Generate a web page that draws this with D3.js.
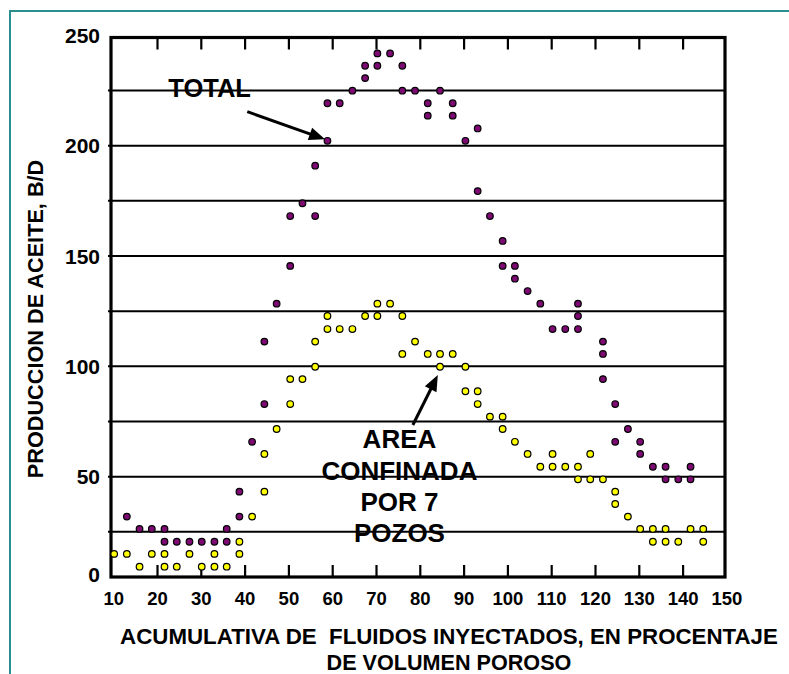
<!DOCTYPE html>
<html>
<head>
<meta charset="utf-8">
<script src="https://cdn.jsdelivr.net/npm/d3@7"></script>
<style>
  body { margin: 0; background: #fff; }
  svg { display: block; }
  text { font-family: "Liberation Sans", Arial, Helvetica, sans-serif; font-weight: bold; fill: #000; }
</style>
</head>
<body>
<svg id="chart" width="789" height="674"></svg>
<script>
// Cumulative injected fluid (% of pore volume) and oil rate (B/D) — whole field
const totalPct = [13.0,15.9,18.7,21.6,21.6,24.4,27.3,30.1,33.0,35.8,35.8,38.7,38.7,41.6,44.4,44.4,47.2,50.3,50.3,53.1,56.0,56.0,58.8,58.8,61.6,64.5,67.4,67.4,70.2,70.2,73.1,75.9,75.9,78.8,81.7,81.7,84.5,87.4,87.4,90.3,93.1,93.1,95.9,98.8,98.8,101.6,101.6,104.5,107.4,110.2,113.1,116.0,116.0,116.0,121.7,121.7,121.7,124.5,124.5,127.4,130.2,130.2,133.1,136.0,136.0,138.9,141.7,141.7];
const totalOil = [31.9,26.3,26.3,26.3,20.5,20.5,20.5,20.5,20.5,20.5,26.3,31.9,43.2,65.8,82.9,111.2,128.4,145.5,168.1,173.9,168.1,190.9,202.2,219.2,219.2,224.9,230.6,236.2,236.2,241.8,241.8,236.2,224.9,224.9,219.2,213.6,224.9,219.2,213.6,202.2,207.8,179.4,168.1,156.8,145.5,145.5,139.7,134.1,128.4,116.9,116.9,128.4,122.8,116.9,111.2,105.6,94.2,82.9,65.8,71.6,65.8,60.3,54.5,54.5,48.8,48.8,54.5,48.8];

// Same, for the area confined by 7 wells
const areaPct = [10.1,13.0,15.9,18.7,21.6,21.6,24.4,27.3,30.1,33.0,33.0,35.8,38.7,38.7,41.6,44.4,44.4,47.2,50.3,50.3,53.1,56.0,56.0,58.8,58.8,61.6,64.5,67.4,70.2,70.2,73.1,75.9,75.9,78.8,81.7,84.5,84.5,87.4,90.3,90.3,93.1,93.1,95.9,98.8,98.8,101.6,104.5,107.4,110.2,110.2,113.1,116.0,116.0,118.8,118.8,121.7,124.5,124.5,127.4,130.2,133.1,133.1,136.0,136.0,138.9,141.7,144.6,144.6];
const areaOil = [15.0,15.0,9.2,15.0,15.0,9.2,9.2,15.0,9.2,15.0,9.2,9.2,15.0,20.5,31.9,43.2,60.3,71.6,82.9,94.2,94.2,99.8,111.2,122.8,116.9,116.9,116.9,122.8,122.8,128.4,128.4,122.8,105.6,111.2,105.6,105.6,99.8,105.6,99.8,88.7,88.7,82.9,77.2,77.2,71.6,65.8,60.3,54.5,60.3,54.5,54.5,54.5,48.8,60.3,48.8,48.8,43.2,37.6,31.9,26.3,26.3,20.5,26.3,20.5,20.5,26.3,26.3,20.5];

// Axis ticks and labels
const xTickValues = [20,30,40,50,60,70,80,90,100,110,120,130,140];
const xTickLabels = [10,20,30,40,50,60,70,80,90,100,110,120,130,140,150];
const yTickLabels = [0,50,100,150,200,250];
const yGridValues = [25,50,75,100,125,150,175,200,225];

const xTitle = ["ACUMULATIVA DE\u00A0 FLUIDOS INYECTADOS, EN PROCENTAJE", "DE VOLUMEN POROSO"];
const yTitle = "PRODUCCION DE ACEITE, B/D";
const totalLabel = "TOTAL";
const areaLabel = ["AREA", "CONFINADA", "POR 7", "POZOS"];

const svg = d3.select("#chart");
const W = 789, H = 674;
const frame = { left: 111, right: 725, top: 37.5, bottom: 577 };

const x = d3.scaleLinear().domain([10, 150]).range([113.7, 726.9]);
const y = d3.scaleLinear().domain([0, 250]).range([587, 35.3]);

svg.append("rect").attr("width", W).attr("height", H).attr("fill", "#fff");

// teal page border (top and left)
svg.append("path")
  .attr("d", `M10,${H} L10,11 L${W},11`)
  .attr("fill", "none").attr("stroke", "#2a8f8f").attr("stroke-width", 2);

// horizontal grid lines
svg.append("g").selectAll("line").data(yGridValues).join("line")
  .attr("x1", frame.left - 3).attr("x2", frame.right)
  .attr("y1", d => y(d)).attr("y2", d => y(d))
  .attr("stroke", "#000").attr("stroke-width", 2);

// inward tick marks on top and bottom edges
const ticks = svg.append("g").attr("stroke", "#000").attr("stroke-width", 2.2);
ticks.selectAll("line.top").data(xTickValues).join("line").attr("class", "top")
  .attr("x1", d => x(d)).attr("x2", d => x(d))
  .attr("y1", frame.top).attr("y2", frame.top + 12);
ticks.selectAll("line.bot").data(xTickValues).join("line").attr("class", "bot")
  .attr("x1", d => x(d)).attr("x2", d => x(d))
  .attr("y1", frame.bottom).attr("y2", frame.bottom - 12);

// plot frame
svg.append("rect")
  .attr("x", frame.left).attr("y", frame.top)
  .attr("width", frame.right - frame.left).attr("height", frame.bottom - frame.top)
  .attr("fill", "none").attr("stroke", "#000").attr("stroke-width", 3.2);

// y tick labels
svg.append("g").selectAll("text").data(yTickLabels).join("text")
  .attr("x", 100)
  .attr("y", d => Math.min(y(d), frame.bottom - 3))
  .attr("dy", "0.36em")
  .attr("text-anchor", "end")
  .style("font-size", "21px")
  .text(d => d);

// x tick labels
svg.append("g").selectAll("text").data(xTickLabels).join("text")
  .attr("x", d => x(d))
  .attr("y", 605)
  .attr("text-anchor", "middle")
  .style("font-size", "18.5px")
  .text(d => d);

// axis titles
svg.append("text")
  .attr("transform", "translate(42.5,319) rotate(-90)")
  .attr("text-anchor", "middle")
  .style("font-size", "21.7px")
  .text(yTitle);

svg.append("g").selectAll("text").data(xTitle).join("text")
  .attr("x", 449)
  .attr("y", (d, i) => 644 + i * 26)
  .attr("text-anchor", "middle")
  .style("font-size", (d, i) => i === 0 ? "22.3px" : "21.6px")
  .text(d => d);

// data points
function drawSeries(xs, ys, color) {
  svg.append("g").selectAll("circle").data(xs.map((v, i) => [v, ys[i]])).join("circle")
    .attr("cx", d => x(d[0]))
    .attr("cy", d => y(d[1]))
    .attr("r", 3.3)
    .attr("fill", color)
    .attr("stroke", "#000")
    .attr("stroke-width", 1.2);
}
drawSeries(totalPct, totalOil, "#7d0a72");
drawSeries(areaPct, areaOil, "#ffff00");

// annotation arrows
function arrow(from, to) {
  const x1 = x(from[0]), y1 = y(from[1]), x2 = x(to[0]), y2 = y(to[1]);
  const dx = x2 - x1, dy = y2 - y1, len = Math.hypot(dx, dy);
  const ux = dx / len, uy = dy / len;
  const headL = 16, headW = 6.5;
  const bx = x2 - ux * headL, by = y2 - uy * headL;
  svg.append("line")
    .attr("x1", x1).attr("y1", y1)
    .attr("x2", bx + ux * 2).attr("y2", by + uy * 2)
    .attr("stroke", "#000").attr("stroke-width", 3);
  svg.append("path")
    .attr("d", `M${x2},${y2} L${bx - uy * headW},${by + ux * headW} L${bx + uy * headW},${by - ux * headW} Z`)
    .attr("fill", "#000");
}
arrow([40.5, 215.4], [58.25, 202.9]);
arrow([78.3, 73.4], [84.0, 96.1]);

// annotation labels
svg.append("text")
  .attr("x", x(22.47)).attr("y", y(221.9))
  .style("font-size", "25.5px")
  .text(totalLabel);

svg.append("g").selectAll("text").data(areaLabel).join("text")
  .attr("x", x(75.24))
  .attr("y", (d, i) => y(62.8) + i * 31.3)
  .attr("text-anchor", "middle")
  .style("font-size", "26px")
  .text(d => d);
</script>
</body>
</html>
